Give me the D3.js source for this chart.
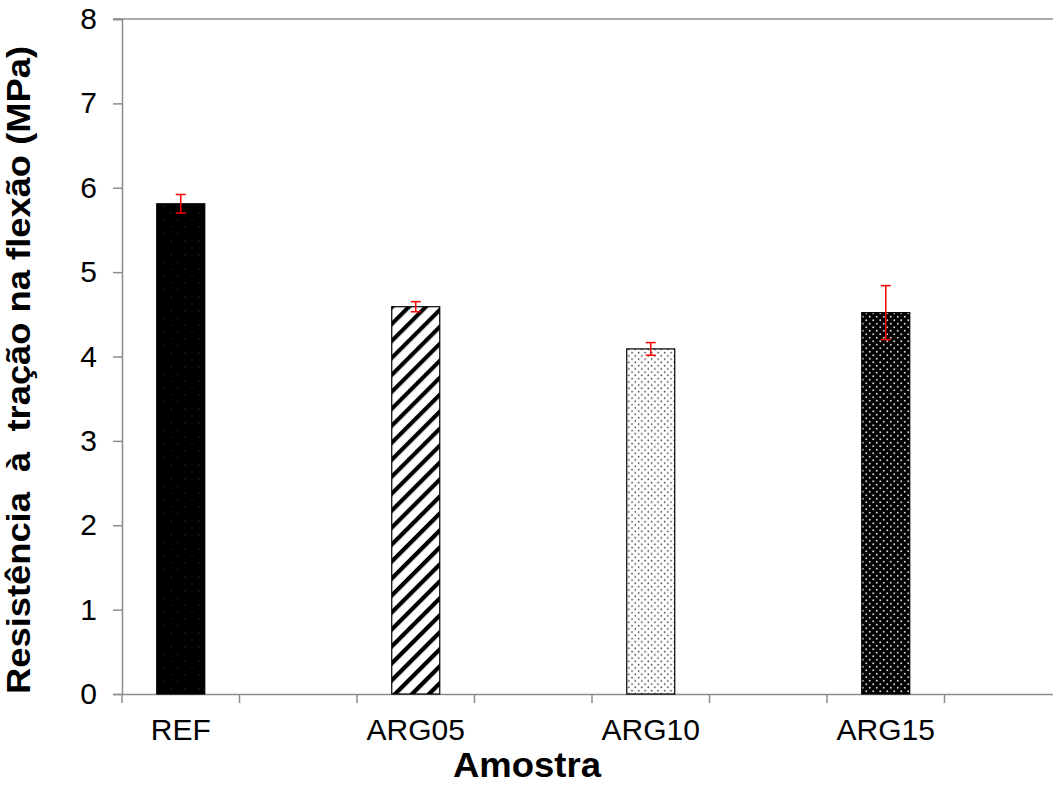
<!DOCTYPE html>
<html><head><meta charset="utf-8">
<script src="https://cdn.jsdelivr.net/npm/d3@7/dist/d3.min.js"></script>
<style>body{margin:0;background:#fff}svg{display:block}</style>
</head><body>
<svg id="c" width="1053" height="785"></svg>
<script>
const slots = ["REF","s1","ARG05","s2","ARG10","s3","ARG15","s4"];
const categories = ["REF","ARG05","ARG10","ARG15"];
const values = [5.81, 4.59, 4.09, 4.52];
const errors = [0.11, 0.06, 0.075, 0.32];
const yTicks = [0,1,2,3,4,5,6,7,8];
const patterns = ["pREF","pARG05","pARG10","pARG15"];

const svg = d3.select("#c");
const L = 122, T = 19, B = 694, R = 1062;
const x = d3.scaleBand().domain(slots).range([L, R]).padding(0);
const y = d3.scaleLinear().domain([0, 8]).range([B, T]);
const axisColor = "#8c8c8c";
const font = "Arial, 'Liberation Sans', sans-serif";

const defs = svg.append("defs");
let p = defs.append("pattern").attr("id","pREF").attr("patternUnits","userSpaceOnUse").attr("width",14).attr("height",14);
p.append("rect").attr("width",14).attr("height",14).attr("fill","#000");
p.append("circle").attr("cx",3).attr("cy",3).attr("r",0.8).attr("fill","#262626");
p.append("circle").attr("cx",10).attr("cy",10).attr("r",0.8).attr("fill","#262626");
p = defs.append("pattern").attr("id","pARG05").attr("patternUnits","userSpaceOnUse").attr("width",12).attr("height",12)
  .attr("patternTransform","rotate(45)");
p.append("rect").attr("width",12).attr("height",12).attr("fill","#fff");
p.append("rect").attr("x",0).attr("y",0).attr("width",4.2).attr("height",12).attr("fill","#000");
p = defs.append("pattern").attr("id","pARG10").attr("patternUnits","userSpaceOnUse").attr("width",6.5).attr("height",6.5);
p.append("rect").attr("width",6.5).attr("height",6.5).attr("fill","#fff");
p.append("circle").attr("cx",1.6).attr("cy",1.6).attr("r",0.85).attr("fill","#444");
p.append("circle").attr("cx",4.85).attr("cy",4.85).attr("r",0.85).attr("fill","#444");
p = defs.append("pattern").attr("id","pARG15").attr("patternUnits","userSpaceOnUse").attr("width",7).attr("height",7);
p.append("rect").attr("width",7).attr("height",7).attr("fill","#000");
p.append("circle").attr("cx",1.75).attr("cy",1.75).attr("r",1).attr("fill","#d0d0d0");
p.append("circle").attr("cx",5.25).attr("cy",5.25).attr("r",1).attr("fill","#d0d0d0");

svg.append("line").attr("x1",L-9).attr("x2",R).attr("y1",y(8)).attr("y2",y(8))
  .attr("stroke",axisColor).attr("stroke-width",1.5);

const yAxis = svg.append("g").attr("transform",`translate(${L},0)`)
  .call(d3.axisLeft(y).tickValues(yTicks).tickSize(9).tickPadding(16).tickFormat(d3.format("d")));
yAxis.select(".domain").attr("stroke",axisColor).attr("stroke-width",1.5);
yAxis.selectAll(".tick line").attr("stroke",axisColor).attr("stroke-width",1.5);
yAxis.selectAll("text").attr("font-family",font).attr("font-size",30).attr("fill","#000");

const xAxis = svg.append("g").attr("transform",`translate(0,${B})`)
  .call(d3.axisBottom(x).tickSize(0).tickFormat(""));
xAxis.select(".domain").attr("stroke",axisColor).attr("stroke-width",1.5);
xAxis.selectAll(".tick").remove();
const bounds = slots.map(s => x(s)).concat([R]);
xAxis.selectAll("line.tk").data(bounds).join("line").attr("class","tk")
  .attr("x1",d=>d).attr("x2",d=>d).attr("y1",0).attr("y2",9)
  .attr("stroke",axisColor).attr("stroke-width",1.5);
xAxis.selectAll("text.lb").data(categories).join("text").attr("class","lb")
  .attr("x",d=>x(d)+x.bandwidth()/2).attr("y",46).attr("text-anchor","middle")
  .attr("font-family",font).attr("font-size",30).attr("fill","#000").text(d=>d);

const bw = 48;
svg.selectAll("rect.bar").data(categories).join("rect").attr("class","bar")
  .attr("x",d=>x(d)+x.bandwidth()/2-bw/2).attr("width",bw)
  .attr("y",(d,i)=>y(values[i])).attr("height",(d,i)=>y(0)-y(values[i]))
  .attr("fill",(d,i)=>`url(#${patterns[i]})`)
  .attr("stroke","#000").attr("stroke-width",1.2);

const eb = svg.append("g").attr("stroke","#ff0000").attr("stroke-width",1.5);
categories.forEach((c,i)=>{
  const cx = x(c)+x.bandwidth()/2;
  const y1 = y(values[i]+errors[i]), y2 = y(values[i]-errors[i]);
  eb.append("line").attr("x1",cx).attr("x2",cx).attr("y1",y1).attr("y2",y2);
  eb.append("line").attr("x1",cx-5).attr("x2",cx+5).attr("y1",y1).attr("y2",y1);
  eb.append("line").attr("x1",cx-5).attr("x2",cx+5).attr("y1",y2).attr("y2",y2);
});

svg.append("text").attr("x",527).attr("y",777).attr("text-anchor","middle")
  .attr("font-family",font).attr("font-size",35).attr("font-weight","bold")
  .attr("textLength",148).attr("lengthAdjust","spacingAndGlyphs").text("Amostra");
svg.append("text").attr("transform","translate(30,370) rotate(-90)").attr("text-anchor","middle")
  .attr("font-family",font).attr("font-size",34).attr("font-weight","bold")
  .attr("textLength",648).attr("lengthAdjust","spacingAndGlyphs")
  .attr("xml:space","preserve").style("white-space","pre").text("Resistência  à  tração na flexão (MPa)");
</script>
</body></html>
